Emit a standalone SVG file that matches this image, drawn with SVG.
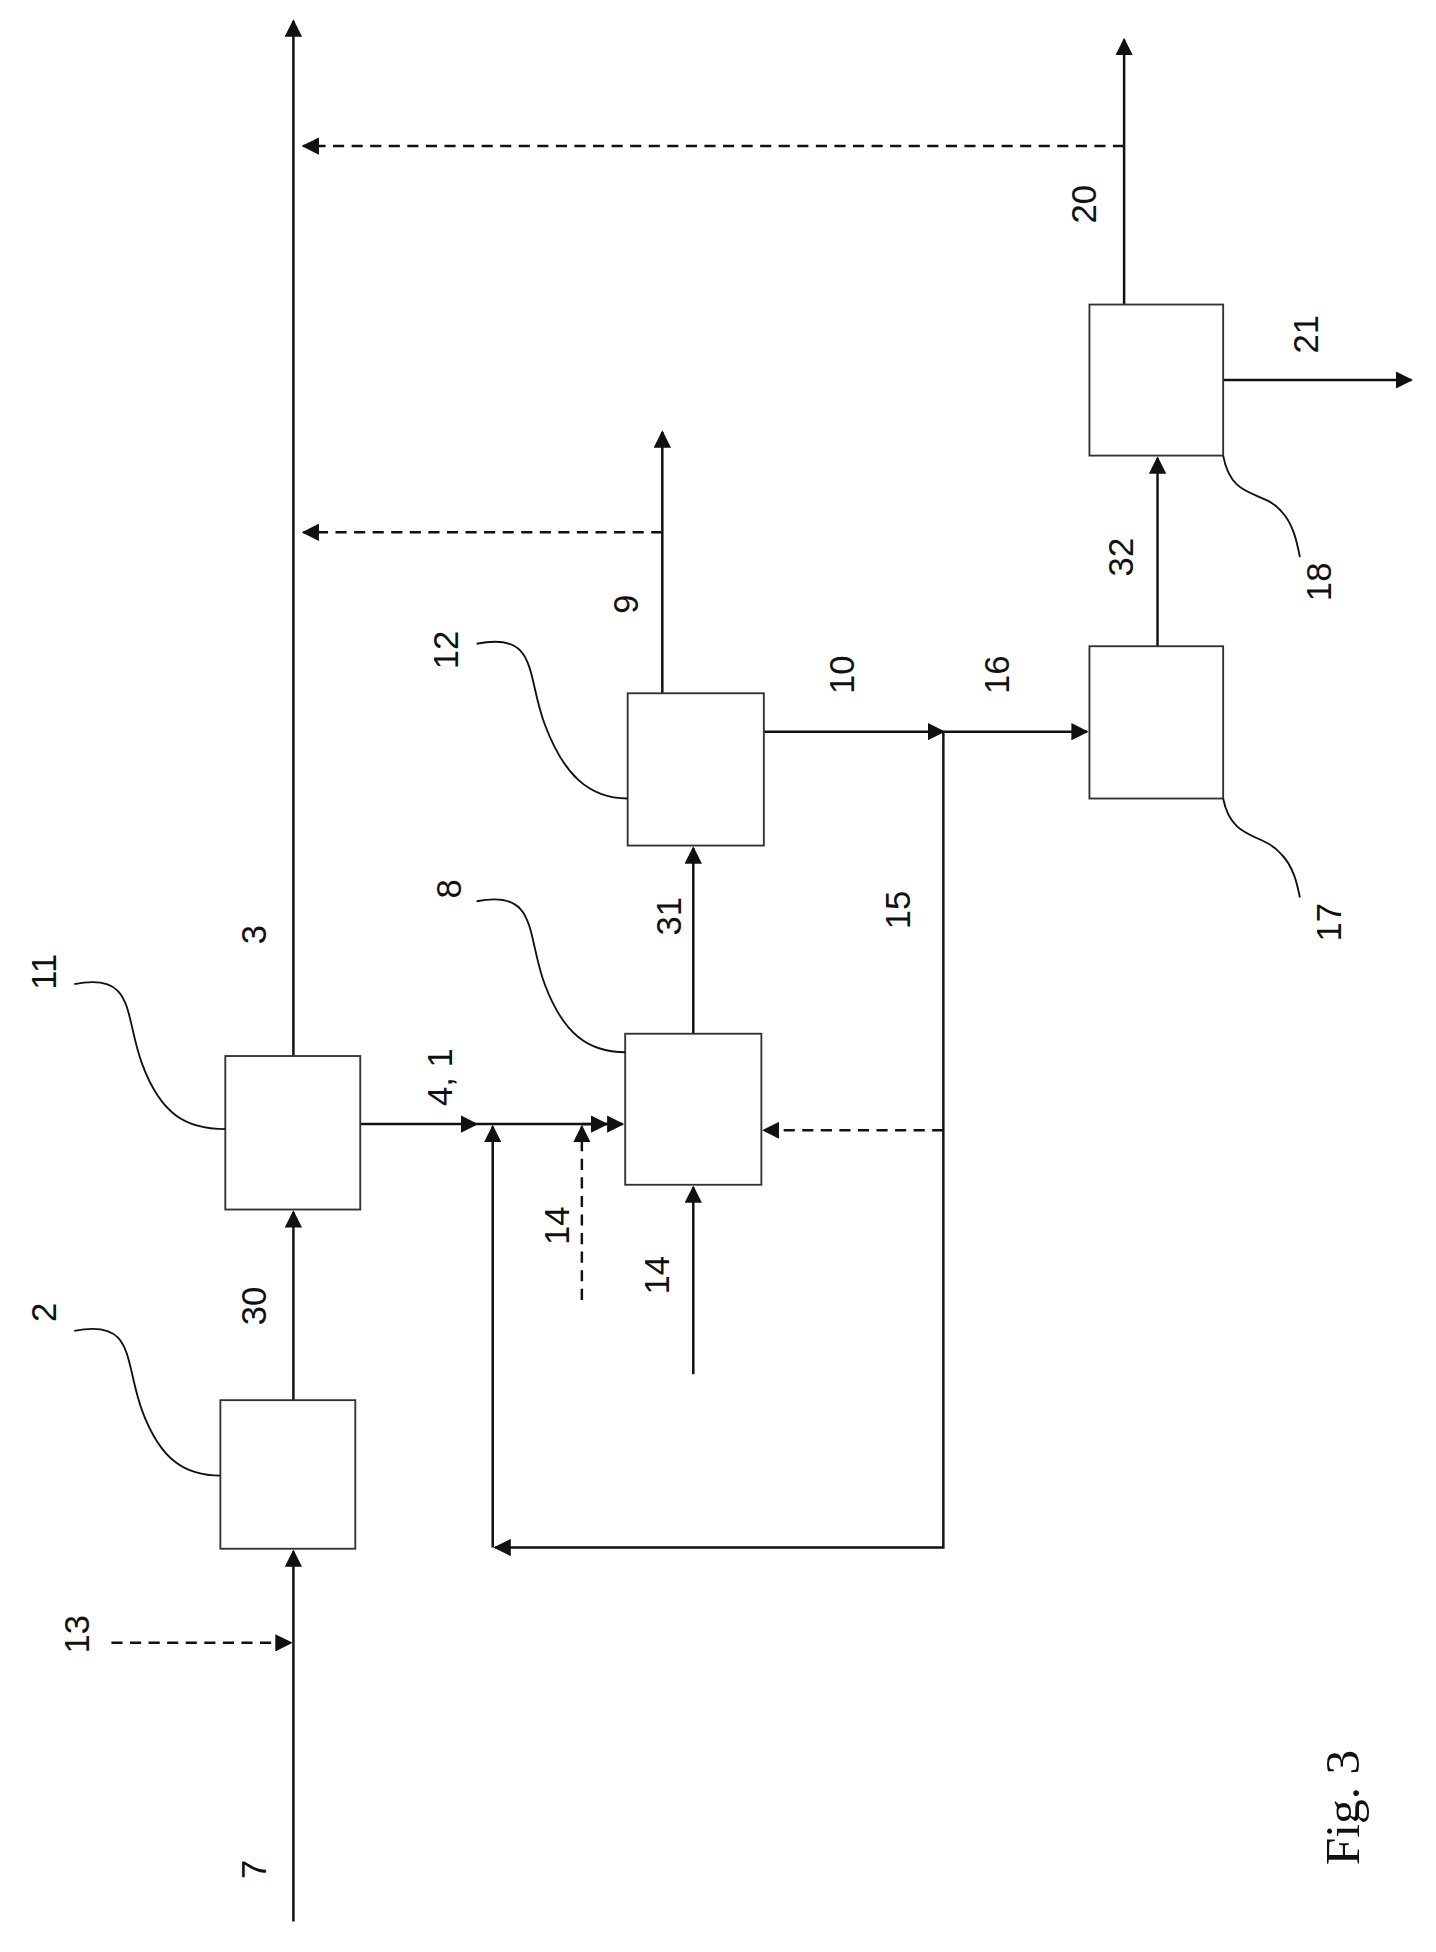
<svg xmlns="http://www.w3.org/2000/svg" width="1436" height="1952" viewBox="0 0 1436 1952">
<style>
.b{fill:#fff;stroke:#333;stroke-width:1.5}
.l{fill:none;stroke:#111;stroke-width:2}
.d{fill:none;stroke:#111;stroke-width:2;stroke-dasharray:9,6}
.c{fill:none;stroke:#111;stroke-width:1.5}
text{font-family:"Liberation Sans",Arial,sans-serif;font-size:28px;fill:#111;text-anchor:middle}
</style>
<defs><marker id="m" viewBox="0 0 10 10" refX="9" refY="5" markerWidth="14" markerHeight="14" orient="auto" markerUnits="userSpaceOnUse"><path d="M0,0L10,5L0,10z" fill="#111"/></marker></defs>
<rect width="1436" height="1952" fill="#fff"/>
<g transform="scale(1.238)">
<g id="connectors">
<path class="l" d="M237,1552V1253" marker-end="url(#m)"/>
<path class="d" d="M90,1327H235" marker-end="url(#m)"/>
<path class="l" d="M237,1131V979" marker-end="url(#m)"/>
<path class="l" d="M237,853V17" marker-end="url(#m)"/>
<path class="l" d="M291,908H385" marker-end="url(#m)"/>
<path class="l" d="M385,908H503" marker-end="url(#m)"/>
<path class="l" d="M560,835V685" marker-end="url(#m)"/>
<path class="l" d="M535,560V349" marker-end="url(#m)"/>
<path class="d" d="M535,430H245" marker-end="url(#m)"/>
<path class="l" d="M617,591H762" marker-end="url(#m)"/>
<path class="l" d="M762,591H878" marker-end="url(#m)"/>
<path class="l" d="M935,522V370" marker-end="url(#m)"/>
<path class="l" d="M908,246V32" marker-end="url(#m)"/>
<path class="d" d="M908,118H245" marker-end="url(#m)"/>
<path class="l" d="M988,307H1140" marker-end="url(#m)"/>
<path class="l" d="M762,591V1250H400" marker-end="url(#m)"/>
<path class="l" d="M398,1250V910" marker-end="url(#m)"/>
<path class="d" d="M762,913H617" marker-end="url(#m)"/>
<path class="l" d="M560,1110V959" marker-end="url(#m)"/>
<path class="d" d="M470,1050V910" marker-end="url(#m)"/>
<path class="l" d="M470,908H490" marker-end="url(#m)"/>
</g>
<g id="n2"><rect class="b" x="178" y="1131" width="109" height="120"/><path class="c" d="M60,1075C110,1065 100,1100 115,1140C130,1180 150,1192 178,1192"/><text transform="translate(45,1060) rotate(-90)">2</text></g>
<g id="n11"><rect class="b" x="182" y="853" width="109" height="124"/><path class="c" d="M60,795C110,785 100,820 115,860C130,900 150,912 182,912"/><text transform="translate(45,785) rotate(-90)">11</text></g>
<g id="n8"><rect class="b" x="505" y="835" width="110" height="122"/><path class="c" d="M385,728C435,718 425,755 440,795C455,835 475,850 505,850"/><text transform="translate(372,718) rotate(-90)">8</text></g>
<g id="n12"><rect class="b" x="507" y="560" width="110" height="123"/><path class="c" d="M385,520C435,510 425,545 440,585C455,625 475,645 507,645"/><text transform="translate(370,525) rotate(-90)">12</text></g>
<g id="n17"><rect class="b" x="880" y="522" width="108" height="123"/><path class="c" d="M988,645C995,680 1020,672 1035,690C1045,700 1048,715 1050,725"/><text transform="translate(1083,745) rotate(-90)">17</text></g>
<g id="n18"><rect class="b" x="880" y="246" width="108" height="122"/><path class="c" d="M988,368C995,405 1020,395 1035,413C1045,423 1048,440 1050,450"/><text transform="translate(1075,470) rotate(-90)">18</text></g>
<g id="labels">
<text transform="translate(215,1510) rotate(-90)">7</text>
<text transform="translate(72,1320) rotate(-90)">13</text>
<text transform="translate(215,1055) rotate(-90)">30</text>
<text transform="translate(215,755) rotate(-90)">3</text>
<text transform="translate(365,870) rotate(-90)">4, 1</text>
<text transform="translate(460,990) rotate(-90)">14</text>
<text transform="translate(540,1030) rotate(-90)">14</text>
<text transform="translate(550,740) rotate(-90)">31</text>
<text transform="translate(515,488) rotate(-90)">9</text>
<text transform="translate(735,735) rotate(-90)">15</text>
<text transform="translate(690,545) rotate(-90)">10</text>
<text transform="translate(815,545) rotate(-90)">16</text>
<text transform="translate(915,450) rotate(-90)">32</text>
<text transform="translate(885,165) rotate(-90)">20</text>
<text transform="translate(1065,270) rotate(-90)">21</text>
<text transform="translate(1098,1460) rotate(-90)" style="font-family:'Liberation Serif',serif;font-size:40px">Fig. 3</text>
</g>
</g>
</svg>
